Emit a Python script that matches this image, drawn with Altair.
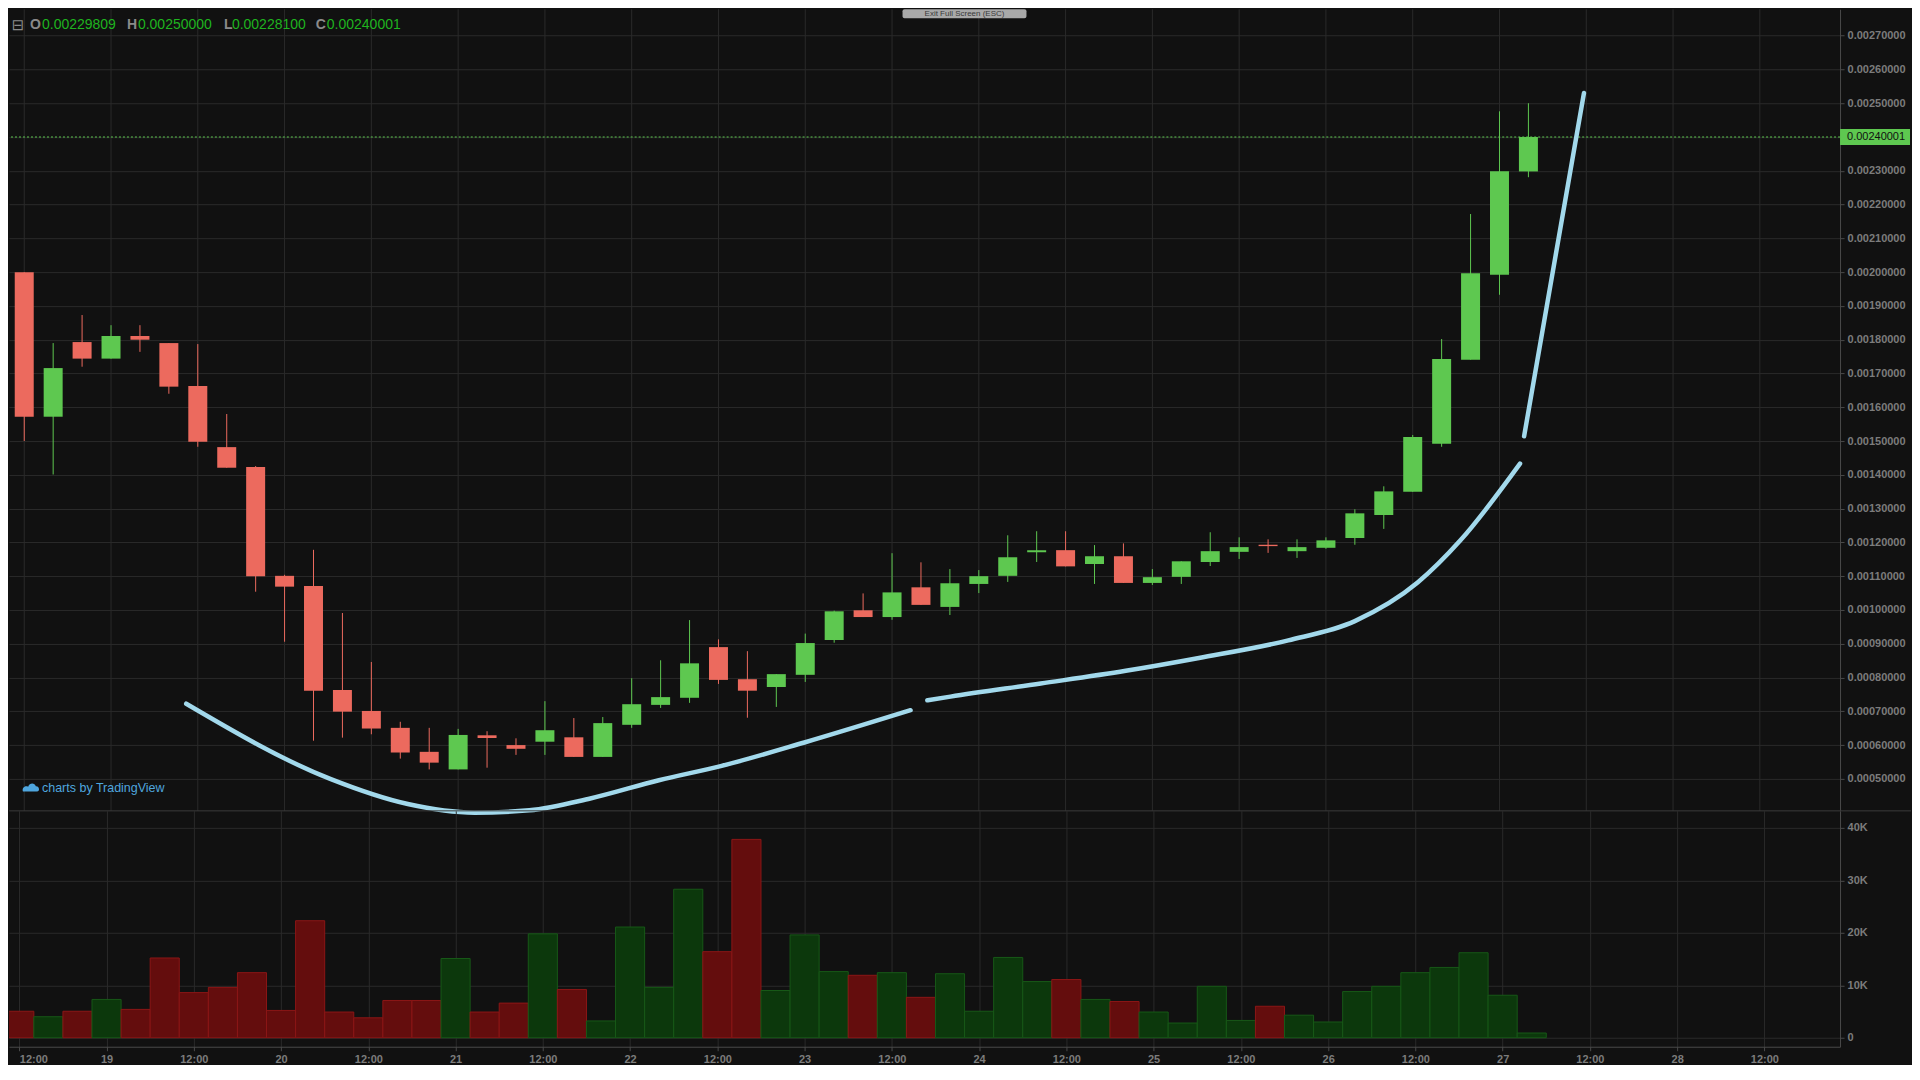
import json
import altair as alt
import pandas as pd

# ---------------- data (prices in units of 1e-5) ----------------
opens = [200.0, 157.2, 179.3, 174.4, 181.1, 179.0, 166.3, 148.2, 142.3, 110.1,
         107.1, 76.3, 70.1, 65.1, 58.0, 52.8, 62.9, 60.0, 61.0, 62.3,
         56.5, 66.0, 71.9, 74.0, 89.0, 79.5, 77.2, 80.8, 91.1, 99.9,
         97.9, 106.7, 100.9, 107.7, 110.1, 117.1, 117.7, 113.6, 115.9, 108.0,
         109.8, 114.2, 117.2, 119.3, 117.4, 118.4, 121.3, 128.1, 135.0, 149.2,
         174.1, 199.2, 229.809]
highs = [200.0, 179.0, 187.3, 184.3, 184.3, 179.0, 178.7, 158.0, 142.6, 110.4,
         117.8, 99.1, 84.6, 66.9, 65.1, 64.8, 64.1, 62.0, 73.0, 68.0,
         68.3, 79.8, 85.1, 97.0, 91.3, 87.8, 81.0, 93.0, 99.8, 104.9,
         116.8, 114.1, 112.1, 111.8, 122.1, 123.3, 123.3, 119.2, 119.7, 112.1,
         114.4, 123.0, 121.5, 120.9, 120.9, 121.5, 129.8, 136.6, 151.8, 180.2,
         217.2, 247.6, 250.0]
lows = [150.0, 140.1, 172.0, 174.4, 176.4, 164.0, 148.3, 142.1, 105.4, 90.6,
        61.3, 62.2, 63.2, 56.0, 52.8, 52.8, 53.3, 57.1, 57.1, 56.5,
        56.5, 65.1, 71.0, 72.5, 78.1, 68.1, 71.3, 78.7, 90.3, 97.9,
        97.1, 101.5, 98.5, 105.0, 108.3, 114.2, 112.9, 107.7, 108.0, 107.4,
        107.7, 113.0, 115.1, 116.9, 115.4, 118.1, 119.3, 124.0, 135.0, 148.3,
        174.1, 193.3, 228.1]
closes = [157.2, 171.6, 174.4, 181.1, 180.0, 166.1, 149.8, 142.1, 110.0, 106.9,
          76.1, 69.9, 64.9, 57.8, 54.8, 63.0, 62.1, 58.9, 64.4, 56.5,
          66.5, 72.1, 74.2, 84.2, 79.3, 76.1, 81.0, 90.2, 99.6, 97.9,
          105.2, 101.5, 107.9, 110.0, 115.6, 117.7, 112.9, 115.9, 108.0, 109.7,
          114.4, 117.4, 118.6, 118.9, 118.6, 120.6, 128.6, 135.1, 151.2, 174.3,
          199.7, 229.9, 240.001]
volumes_k = [5.05, 4.0, 5.05, 7.3, 5.4, 15.2, 8.6, 9.6, 12.4, 5.2,
             22.3, 4.9, 3.8, 7.1, 7.1, 15.1, 4.9, 6.6, 19.8, 9.2,
             3.2, 21.1, 9.6, 28.3, 16.4, 37.8, 9.0, 19.6, 12.6, 11.9,
             12.4, 7.7, 12.2, 5.05, 15.3, 10.7, 11.1, 7.3, 6.9, 4.9,
             2.8, 9.8, 3.3, 6.0, 4.3, 3.0, 8.8, 9.8, 12.4, 13.4,
             16.2, 8.1, 0.9]
# x axis: one tick every 3 candles (12 hours), candles are 4h apart
tick_labels = ["12:00", "19", "12:00", "20", "12:00", "21", "12:00", "22", "12:00", "23",
               "12:00", "24", "12:00", "25", "12:00", "26", "12:00", "27", "12:00", "28", "12:00"]
price_ticks = [round(0.0005 + i * 0.0001, 4) for i in range(23)]
vol_ticks = [0, 10000, 20000, 30000, 40000]

# hand-drawn trend curves (candle index, price in 1e-5)
trend_seg = ["a"] * 10 + ["b"] * 10 + ["c"] * 2
trend_idx = [5.60, 10.60, 13.26, 15.57, 17.46, 19.57, 21.94, 24.11, 26.97, 30.64,
             31.22, 32.02, 35.14, 38.08, 40.61, 43.70, 46.00, 48.17, 49.65, 51.71,
             51.85, 53.92]
trend_price = [72.25, 49.91, 42.54, 40.0, 40.7, 44.2, 49.6, 53.85, 60.77, 70.33,
               73.25, 74.35, 78.22, 82.0, 85.8, 91.0, 96.7, 108.1, 120.6, 143.3,
               151.4, 253.0]

header_letters = ["O", "H", "L", "C"]
header_values = ["0.00229809", "0.00250000", "0.00228100", "0.00240001"]

# ---------------- styling ----------------
BG = "#111111"
GRID = "#2a2a2a"
AXIS = "#4a4a4a"
LABEL = "#7c7c7c"
UP = "#5ec850"
DOWN = "#ec6a5e"
VOL_UP_FILL, VOL_UP_STROKE = "#0c380c", "#175817"
VOL_DN_FILL, VOL_DN_STROKE = "#640d0d", "#8c1616"
TREND = "#a2d9ec"
FONT = "Liberation Sans"

W = 1832
H_PRICE = 802
H_VOL = 236

cdf = pd.DataFrame({
    "idx": list(range(len(opens))),
    "open": [v * 1e-5 for v in opens],
    "high": [v * 1e-5 for v in highs],
    "low": [v * 1e-5 for v in lows],
    "close": [v * 1e-5 for v in closes],
    "vol": [v * 1000 for v in volumes_k],
})
cdf["col"] = [UP if c >= o else DOWN for o, c in zip(opens, closes)]
cdf["vfill"] = [VOL_UP_FILL if c >= o else VOL_DN_FILL for o, c in zip(opens, closes)]
cdf["vstroke"] = [VOL_UP_STROKE if c >= o else VOL_DN_STROKE for o, c in zip(opens, closes)]

tdf = pd.DataFrame({"seg": trend_seg, "idx": trend_idx, "price": [p * 1e-5 for p in trend_price]})
grid_df = pd.DataFrame({"idx": [i * 3 for i in range(len(tick_labels))]})
last_df = pd.DataFrame({"p": [closes[-1] * 1e-5], "label": [header_values[-1]]})

xscale = alt.Scale(domain=[-0.354, 62.6], nice=False, zero=False)
pscale = alt.Scale(domain=[40.53e-5, 277.81e-5], nice=False, zero=False)
vscale = alt.Scale(domain=[-1714, 43238], nice=False, zero=False)

price_axis = alt.Axis(
    orient="right", values=price_ticks, title="",
    labelExpr="abs(datum.value - 0.0024) < 1e-9 ? '' : format(datum.value, '.8f')",
    grid=True, gridColor=GRID, domainColor=AXIS, tickColor=AXIS, tickSize=4,
    labelPadding=3, labelColor=LABEL, labelFontSize=11, labelFont=FONT, labelFontWeight="bold",
)


def py(field):
    return alt.Y(field, type="quantitative", scale=pscale, axis=price_axis, title="")


def px(field):
    return alt.X(field, type="quantitative", scale=xscale, axis=None)


vgrid = alt.Chart(grid_df).mark_rule(color=GRID, strokeWidth=1).encode(x=px("idx"))

wicks = alt.Chart(cdf).mark_rule(strokeWidth=1).encode(
    x=px("idx"), y=py("low"), y2="high:Q", color=alt.Color("col:N", scale=None))
bodies = alt.Chart(cdf).mark_bar(size=19).encode(
    x=px("idx"), y=py("open"), y2="close:Q", color=alt.Color("col:N", scale=None))

last_line = alt.Chart(last_df).mark_rule(color=UP, strokeDash=[2, 2], strokeWidth=1).encode(y=py("p"))
last_box = alt.Chart(last_df).mark_rect(color=UP, yOffset=-8, y2Offset=8, clip=False).encode(
    y=py("p"), y2="p:Q", x=alt.value(1832), x2=alt.value(1902))
last_text = alt.Chart(last_df).mark_text(
    align="left", baseline="middle", color="#111111", fontSize=11, font=FONT, clip=False
).encode(y=py("p"), x=alt.value(1839), text="label:N")

trend = alt.Chart(tdf).mark_line(
    color=TREND, strokeWidth=4.5, strokeCap="round", strokeJoin="round",
    interpolate="monotone", clip=False
).encode(x=px("idx"), y=py("price"), detail="seg:N")

one = pd.DataFrame({"a": [0]})
header_layers = [
    alt.Chart(one).mark_text(text="⊟", color="#8a8a8a", fontSize=15, font="DejaVu Sans",
                             align="center", baseline="middle").encode(x=alt.value(9), y=alt.value(16))
]
letter_x = [21, 118, 215, 307]
value_x = [33, 129, 223, 318]
for lx, vx, letter, val in zip(letter_x, value_x, header_letters, header_values):
    header_layers.append(alt.Chart(one).mark_text(
        text=letter, color="#8a8a8a", fontSize=14, font=FONT, fontWeight="bold",
        align="left", baseline="middle").encode(x=alt.value(lx), y=alt.value(16)))
    header_layers.append(alt.Chart(one).mark_text(
        text=val, color="#1fb41f", fontSize=14, font=FONT,
        align="left", baseline="middle").encode(x=alt.value(vx), y=alt.value(16)))

exit_box = alt.Chart(one).mark_rect(color="#a9a9a9", cornerRadius=2).encode(
    x=alt.value(894), x2=alt.value(1018), y=alt.value(0), y2=alt.value(9))
exit_text = alt.Chart(one).mark_text(
    text="Exit Full Screen (ESC)", color="#3a3a3a", fontSize=8, font=FONT,
    align="center", baseline="top").encode(x=alt.value(956), y=alt.value(0.5))

tv_logo = alt.Chart(one).mark_point(
    shape="M-1,0.45 C-1.15,0 -0.75,-0.35 -0.35,-0.15 C-0.2,-0.65 0.45,-0.7 0.6,-0.2 C1.05,-0.25 1.15,0.45 0.75,0.45 Z",
    filled=True, color="#4fa6de", size=260, opacity=1
).encode(x=alt.value(22), y=alt.value(779))
tv_text = alt.Chart(one).mark_text(
    text="charts by TradingView", color="#4fa6de", fontSize=12.5, font=FONT,
    align="left", baseline="middle").encode(x=alt.value(33), y=alt.value(779))

price_chart = alt.layer(
    vgrid, wicks, bodies, last_line, trend, last_box, last_text,
    *header_layers, exit_box, exit_text, tv_logo, tv_text
).properties(width=W, height=H_PRICE)

# ---------------- volume pane ----------------
label_expr = json.dumps(tick_labels).replace('"', "'") + "[round(datum.value / 3)]"
vol_x_axis = alt.Axis(
    values=[i * 3 for i in range(len(tick_labels))], labelExpr=label_expr, title="",
    grid=True, gridColor=GRID, domainColor=AXIS, tickColor=AXIS, tickSize=4,
    labelPadding=3, labelColor=LABEL, labelFontSize=11, labelFont=FONT, labelFontWeight="bold",
    labelAlign={"condition": {"test": "datum.value < 1", "value": "left"}, "value": "center"},
)
vol_y_axis = alt.Axis(
    orient="right", values=vol_ticks, title="",
    labelExpr="datum.value == 0 ? '0' : (datum.value / 1000) + 'K'",
    grid=True, gridColor=GRID, domainColor=AXIS, tickColor=AXIS, tickSize=4,
    labelPadding=3, labelColor=LABEL, labelFontSize=11, labelFont=FONT, labelFontWeight="bold",
)

vol_bars = alt.Chart(cdf).transform_calculate(
    x0="datum.idx - 0.5", x1="datum.idx + 0.5"
).mark_rect(strokeWidth=1, clip=True).encode(
    x=alt.X("x0:Q", scale=xscale, axis=vol_x_axis, title=""),
    x2="x1:Q",
    y=alt.Y("vol:Q", scale=vscale, axis=vol_y_axis, title=""),
    y2=alt.datum(0),
    fill=alt.Fill("vfill:N", scale=None),
    stroke=alt.Stroke("vstroke:N", scale=None),
)
sep = alt.Chart(one).mark_rule(color="#3a3a3a", strokeWidth=1, clip=False).encode(
    x=alt.value(0), x2=alt.value(1903), y=alt.value(0))

vol_chart = alt.layer(vol_bars, sep).properties(width=W, height=H_VOL)

chart = alt.vconcat(price_chart, vol_chart, spacing=0).properties(
    padding=0, bounds="flush", background=BG
).configure_view(strokeWidth=0)

chart.save("out.html", embed_options={"renderer": "svg", "actions": False})
